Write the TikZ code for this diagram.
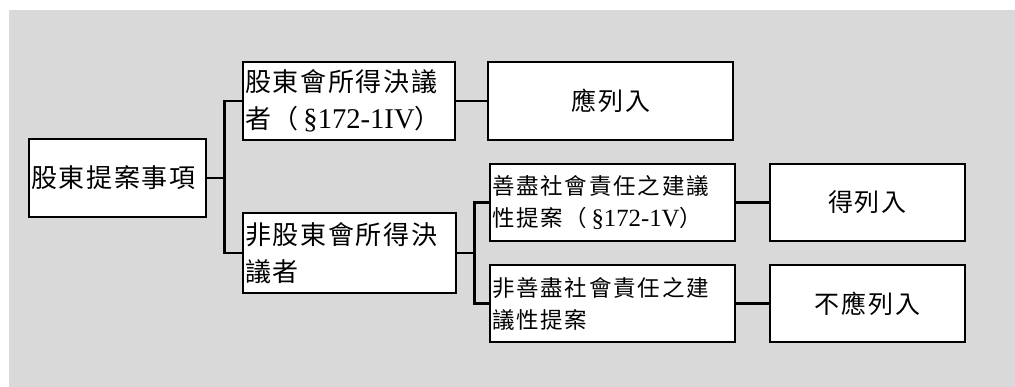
\documentclass[tikz,border=0pt]{standalone}
\usepackage{fontspec}
\setmainfont{Noto Sans CJK TC}
\newfontfamily\latin[Scale=1.1]{Liberation Serif}
\usetikzlibrary{positioning}
\definecolor{bggray}{RGB}{217,217,217}

\begin{document}
\begin{tikzpicture}[x=1pt,y=-1pt,
  box/.style={draw, line width=2.5pt, fill=white, inner sep=2pt, align=left,
    font=\fontsize{26}{37}\selectfont\addfontfeature{LetterSpace=6.5}},
  note/.style={box, font=\fontsize{22.5}{32}\selectfont\addfontfeature{LetterSpace=8}},
  verdict/.style={box, align=center, font=\fontsize{25}{32}\selectfont\addfontfeature{LetterSpace=8}},
  fork/.style={to path={-- ++(17,0) |- (\tikztotarget)}}]
 \fill[bggray] (9,10) rectangle (1015,387);
 \useasboundingbox (0,0) rectangle (1015,387);
 \node[box, minimum width=177pt, minimum height=78pt, text width=173pt] (item) at (117.5,178) {股東提案事項};
 \node[box, minimum width=212pt, minimum height=78pt, text width=208pt] (resolve) at (349,101) {股東會所得決議\\者（{\latin\,§172-1IV}）};
 \node[box, minimum width=213pt, minimum height=80pt, text width=209pt] (nonresolve) at (349.5,253) {非股東會所得決\\議者};
 \node[verdict, minimum width=245pt, minimum height=78pt, text width=241pt] (must) at (610.5,101) {應列入};
 \node[note, minimum width=245pt, minimum height=77pt, text width=241pt] (social) at (612.5,202.5) {善盡社會責任之建議\\性提案（{\latin\,§172-1V}）};
 \node[note, minimum width=245pt, minimum height=77pt, text width=241pt] (nonsocial) at (612.5,303.5) {非善盡社會責任之建\\議性提案};
 \node[verdict, minimum width=195pt, minimum height=77pt, text width=191pt] (may) at (867.5,202.5) {得列入};
 \node[verdict, minimum width=195pt, minimum height=77pt, text width=191pt] (mustnot) at (867.5,303.5) {不應列入};
 \path[line width=2.5pt]
  (item.east) edge[fork] (resolve.west)
  (item.east) edge[fork] (nonresolve.west)
  (resolve) edge (must)
  (nonresolve.east) edge[fork] (social.west)
  (nonresolve.east) edge[fork] (nonsocial.west)
  (social) edge (may)
  (nonsocial) edge (mustnot)
  ;
\end{tikzpicture}
\end{document}
